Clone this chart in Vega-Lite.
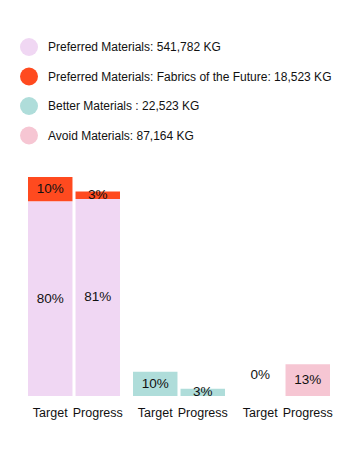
{
  "$schema": "https://vega.github.io/schema/vega-lite/v6.json",
  "background": "white",
  "padding": {"left": 20, "top": 38, "right": 5, "bottom": 5},
  "config": {
    "font": "Liberation Sans",
    "view": {"stroke": null},
    "axis": {"grid": false}
  },
  "data": {
    "values": [
      {"group": "Preferred", "type": "Target", "material": "Preferred Materials: 541,782 KG", "pct": 0.80},
      {"group": "Preferred", "type": "Target", "material": "Preferred Materials: Fabrics of the Future: 18,523 KG", "pct": 0.10},
      {"group": "Preferred", "type": "Progress", "material": "Preferred Materials: 541,782 KG", "pct": 0.81},
      {"group": "Preferred", "type": "Progress", "material": "Preferred Materials: Fabrics of the Future: 18,523 KG", "pct": 0.03},
      {"group": "Better", "type": "Target", "material": "Better Materials : 22,523 KG", "pct": 0.10},
      {"group": "Better", "type": "Progress", "material": "Better Materials : 22,523 KG", "pct": 0.03},
      {"group": "Avoid", "type": "Target", "material": "Avoid Materials: 87,164 KG", "pct": 0.0},
      {"group": "Avoid", "type": "Progress", "material": "Avoid Materials: 87,164 KG", "pct": 0.13}
    ]
  },
  "facet": {
    "column": {"field": "group", "type": "nominal", "sort": ["Preferred", "Better", "Avoid"], "header": {"title": null, "labels": false}}
  },
  "spacing": 13,
  "spec": {
    "width": 92,
    "height": 219,
    "transform": [
      {"stack": "pct", "groupby": ["group", "type"], "sort": [{"field": "material", "order": "ascending"}], "as": ["v0", "v1"]},
      {"calculate": "(datum.v0 + datum.v1) / 2", "as": "mid"}
    ],
    "encoding": {
      "x": {
        "field": "type", "type": "nominal", "sort": ["Target", "Progress"],
        "scale": {"paddingInner": 0.064, "paddingOuter": 0},
        "axis": {"title": null, "domain": false, "ticks": false, "labelAngle": 0, "labelFontSize": 12.5, "labelColor": "#111", "labelPadding": 7, "labelFont": "Liberation Sans"}
      }
    },
    "layer": [
      {
        "mark": {"type": "bar"},
        "encoding": {
          "y": {"field": "v0", "type": "quantitative", "scale": {"domain": [0, 0.9]}, "axis": null},
          "y2": {"field": "v1"},
          "color": {
            "field": "material", "type": "nominal",
            "scale": {
              "domain": ["Preferred Materials: 541,782 KG", "Preferred Materials: Fabrics of the Future: 18,523 KG", "Better Materials : 22,523 KG", "Avoid Materials: 87,164 KG"],
              "range": ["#F0D7F3", "#FF4A1F", "#AFDDDA", "#F6C6D3"]
            },
            "legend": {
              "title": null, "orient": "none", "legendX": -8, "legendY": -139,
              "symbolType": "circle", "symbolSize": 324, "symbolStrokeWidth": 0,
              "labelFontSize": 12, "labelFont": "Liberation Sans", "labelColor": "#111",
              "labelOffset": 10, "rowPadding": 11.5, "padding": 0, "labelLimit": 400
            }
          }
        }
      },
      {
        "transform": [{"filter": "datum.pct > 0"}],
        "mark": {"type": "text", "fontSize": 13.5, "color": "#111", "baseline": "middle"},
        "encoding": {
          "y": {"field": "mid", "type": "quantitative"},
          "text": {"field": "pct", "type": "quantitative", "format": ".0%"}
        }
      },
      {
        "transform": [{"filter": "datum.pct == 0"}],
        "mark": {"type": "text", "fontSize": 13.5, "color": "#111", "baseline": "middle", "dy": -21},
        "encoding": {
          "y": {"field": "mid", "type": "quantitative"},
          "text": {"field": "pct", "type": "quantitative", "format": ".0%"}
        }
      }
    ]
  }
}
